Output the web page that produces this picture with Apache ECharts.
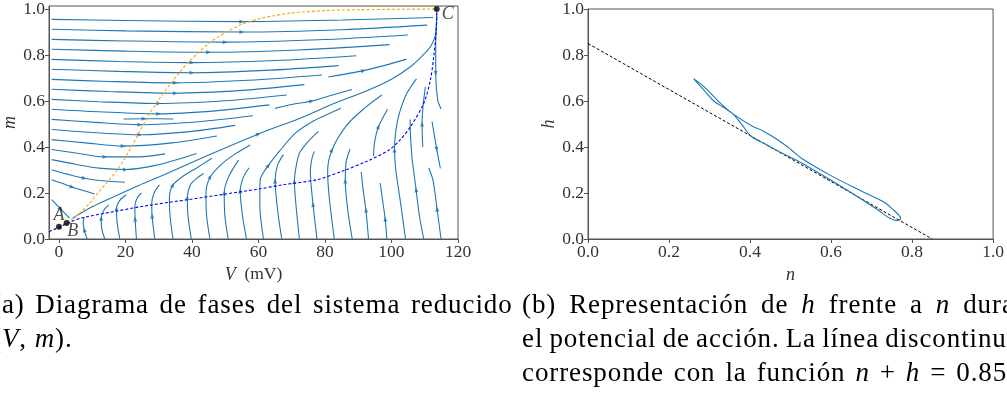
<!DOCTYPE html>
<html>
<head>
<meta charset="utf-8">
<script src="https://cdn.jsdelivr.net/npm/echarts@6/dist/echarts.min.js"></script>
<style>
html, body { margin: 0; padding: 0; width: 1007px; height: 403px; overflow: hidden; background: #fff; }
#main { position: absolute; left: 0; top: 0; width: 1007px; height: 403px; }
.cap {
  position: absolute;
  white-space: nowrap;
  font-family: 'Liberation Serif', serif;
  font-size: 27px;
  line-height: 34px;
  letter-spacing: 0.9px;
  color: #000;
}
.cap div { height: 34px; }
.cap i { font-style: italic; }
</style>
</head>
<body>
<div id="main"></div>
<div class="cap" style="left:-8px; top:287px;">
  <div style="word-spacing:3px;">(a) Diagrama de fases del sistema reducido</div>
  <div>(<i>V</i>, <i>m</i>).</div>
</div>
<div class="cap" style="left:522px; top:287px;">
  <div style="word-spacing:5.3px;">(b) Representación de <i>h</i> frente a <i>n</i> durante</div>
  <div style="word-spacing:-1.5px;">el potencial de acción. La línea discontinua</div>
  <div style="word-spacing:2.3px;">corresponde con la función <i>n</i> + <i>h</i> = 0.85.</div>
</div>

<script>
// ---- panel (a): streamlines [V (mV), m] ----
const upperLines = [
  [[-2.2, 0.955], [20, 0.95], [55, 0.945], [85, 0.952], [112.5, 0.963]],
  [[-2.2, 0.912], [20, 0.905], [55, 0.9], [85, 0.91], [110.7, 0.93]],
  [[-2.2, 0.868], [20, 0.861], [50, 0.856], [78, 0.866], [104.9, 0.887]],
  [[-2.2, 0.825], [20, 0.817], [45, 0.812], [72, 0.822], [99.4, 0.845]],
  [[-2.2, 0.781], [18, 0.772], [40, 0.767], [65, 0.776], [89.4, 0.797]],
  [[-2.2, 0.738], [18, 0.729], [40, 0.723], [62, 0.733], [84.1, 0.754]],
  [[-2.2, 0.694], [15, 0.685], [35, 0.679], [57, 0.69], [79.1, 0.713]],
  [[-2.2, 0.651], [15, 0.641], [35, 0.634], [55, 0.646], [73.8, 0.671]],
  [[-2.2, 0.607], [12, 0.597], [30, 0.589], [50, 0.601], [68.5, 0.626]],
  [[-2.2, 0.564], [12, 0.553], [30, 0.544], [47, 0.557], [63.3, 0.583]],
  [[-2.2, 0.52], [10, 0.508], [24.3, 0.497], [42, 0.51], [58.3, 0.536]],
  [[-2.2, 0.476], [10, 0.463], [24.3, 0.453], [40, 0.468], [53, 0.494]],
  [[-2.2, 0.432], [8, 0.418], [19.3, 0.404], [34, 0.418], [47.5, 0.448]],
  [[-2.2, 0.389], [6, 0.372], [13.8, 0.357], [24, 0.357], [31.9, 0.37]],
  [[-2.2, 0.345], [5, 0.325], [12, 0.308], [20, 0.302], [29, 0.32], [41.4, 0.372]],
  [[-2.2, 0.301], [2.5, 0.282], [7.6, 0.264], [13, 0.253], [19.8, 0.247]],
  [[-2.2, 0.258], [1, 0.242], [4, 0.225], [7.5, 0.21], [10.7, 0.196]],
  [[-2.2, 0.171], [0.5, 0.13], [3.2, 0.091]]
];

const midLines = [
  [[19.4, 0.522], [25.6, 0.523], [34.4, 0.522]],
  [[65, 0.568], [70, 0.585], [76, 0.6], [82, 0.625], [88.1, 0.65]],
  [[81, 0.704], [86, 0.717], [91.6, 0.732], [98, 0.755], [104.5, 0.782]],
  // separatriz hacia C
  [[4.2, 0.091], [10, 0.14], [16.8, 0.186], [24, 0.233], [31.8, 0.28], [45, 0.365], [60, 0.457],
   [72.5, 0.525], [82, 0.585], [92.6, 0.645], [100, 0.695], [105.7, 0.749], [109.5, 0.8],
   [111.7, 0.836], [113.1, 0.88], [113.5, 0.923], [113.6, 0.985]],
  [[94.6, 0.36], [94.9, 0.42], [96.1, 0.488], [98.8, 0.564]],
  [[109.4, 0.4], [109.2, 0.5], [109.5, 0.58], [110.2, 0.662]],
  [[112.2, 0.51], [112.9, 0.45], [113.6, 0.39], [114.7, 0.307]],
  [[113.6, 0.97], [113.3, 0.85], [113.3, 0.72], [113.9, 0.604], [114.9, 0.565]]
];

const lowerLines = [
  [[8.5, 0], [7.6, 0.04], [7.3, 0.07], [7.6, 0.095]],
  [[13.8, 0], [12.9, 0.042], [12.7, 0.09], [13.5, 0.125], [15, 0.148]],
  [[18.3, 0], [17.5, 0.07], [17.3, 0.133], [18.3, 0.168], [20.2, 0.191]],
  [[23.3, 0], [22.9, 0.087], [22.8, 0.14], [23.5, 0.178], [24.8, 0.2]],
  [[28.8, 0], [28, 0.1], [27.9, 0.152], [28.6, 0.2], [30.2, 0.235]],
  [[34.3, 0], [33.4, 0.1], [33.2, 0.18], [34.3, 0.235], [37.4, 0.274], [41.5, 0.31], [46, 0.351]],
  [[39.8, 0], [38.8, 0.1], [38.6, 0.18], [39.5, 0.235], [41.5, 0.265], [43.5, 0.285]],
  [[45.4, 0], [44.4, 0.1], [44.2, 0.2], [45.5, 0.27], [49.2, 0.329], [53, 0.37], [57.5, 0.409]],
  [[50.9, 0], [49.9, 0.1], [49.7, 0.2], [51, 0.27], [54, 0.343]],
  [[56.4, 0], [55.2, 0.1], [54.5, 0.209], [55.5, 0.27], [57.2, 0.31]],
  [[61.5, 0], [60.4, 0.15], [60.5, 0.257], [63, 0.32], [66.5, 0.385], [71, 0.459], [75.6, 0.505], [79, 0.53], [84.8, 0.568]],
  [[67, 0], [65.8, 0.12], [65, 0.252], [65.7, 0.32], [67.5, 0.367]],
  [[72.3, 0], [71.2, 0.16], [70.8, 0.25], [71.5, 0.33], [72.5, 0.378], [75, 0.425], [78, 0.468]],
  [[77.6, 0], [76.4, 0.15], [75.6, 0.293], [76, 0.345], [76.8, 0.381]],
  [[82.8, 0], [81.3, 0.178], [80.8, 0.294], [82.1, 0.387], [86.6, 0.496], [92, 0.57], [97.1, 0.626]],
  [[88.2, 0], [86.9, 0.12], [86.1, 0.252], [86.3, 0.33], [87.5, 0.39]],
  [[93.1, 0], [92.3, 0.126], [91.5, 0.21], [90.9, 0.291]],
  [[98.6, 0], [98.1, 0.087], [97.3, 0.17], [96.6, 0.243]],
  [[104.2, 0], [102.8, 0.15], [101.3, 0.3], [100.9, 0.387], [101.3, 0.47], [102.3, 0.543], [104.5, 0.63], [107.5, 0.696]],
  [[109.7, 0], [108.4, 0.1], [107.4, 0.214], [106.2, 0.35], [105.7, 0.453], [105.6, 0.52]],
  [[114.9, 0], [113.7, 0.13], [112.5, 0.254], [111.2, 0.31]]
];

// nulclinas
const mNullcline = [[-3, 0.035], [0, 0.052], [3, 0.078], [6, 0.11], [9, 0.152], [12, 0.205], [15, 0.255],
  [18, 0.31], [21, 0.38], [24, 0.46], [27, 0.54], [30, 0.605], [33, 0.665], [36, 0.72], [39, 0.77],
  [42, 0.81], [45, 0.85], [48, 0.88], [51, 0.905], [55, 0.933], [60, 0.957], [65, 0.972], [70, 0.983],
  [80, 0.993], [90, 0.997], [113.6, 1.0]];
const vNullcline = [[-3, 0.032], [0, 0.05], [2.7, 0.07], [6.7, 0.091], [16.8, 0.12], [26.8, 0.146],
  [38.8, 0.171], [48.9, 0.193], [59.9, 0.217], [67.5, 0.236], [77.6, 0.258], [85.6, 0.297],
  [92.6, 0.338], [99.3, 0.387], [102.5, 0.43], [105.7, 0.488], [109.7, 0.59], [111.7, 0.691],
  [112.7, 0.793], [113.4, 0.894], [113.6, 0.96], [113.6, 1.0]];

const fixedPts = [[0, 0.053], [2.3, 0.07], [113.6, 1.0]];
const fixedNames = ['A', 'B', 'C'];

const vTicks = [0, 20, 40, 60, 80, 100, 120];
const unitTicks = [0, 0.2, 0.4, 0.6, 0.8, 1.0];

// ---- panel (b): h frente a n ----
const loopN = [0.261, 0.29, 0.312, 0.335, 0.357, 0.38, 0.402, 0.435, 0.471, 0.524, 0.594, 0.651, 0.716,
  0.745, 0.762, 0.772, 0.768, 0.752, 0.733, 0.667, 0.594, 0.528, 0.5, 0.471, 0.43, 0.406, 0.357, 0.33,
  0.292, 0.272, 0.261];
const loopH = [0.696, 0.64, 0.598, 0.572, 0.545, 0.497, 0.448, 0.415, 0.381, 0.334, 0.262, 0.2, 0.126,
  0.09, 0.081, 0.088, 0.103, 0.13, 0.158, 0.215, 0.281, 0.35, 0.39, 0.428, 0.472, 0.49, 0.545, 0.585,
  0.653, 0.683, 0.696];
const sumLine = [[0, 0.85], [0.85, 0]]; // n + h = 0.85

// ---- estilos ----
const font = 'Liberation Serif';
const spine = '#555';
const streamColor = '#1f77b4';
const tickSize = 17.5;

function axisBase(ticks, fmt) {
  return {
    type: 'value',
    splitLine: { show: false },
    axisLine: { show: true, onZero: false, lineStyle: { color: spine, width: 1 } },
    axisTick: { show: true, inside: false, length: 4, customValues: ticks, lineStyle: { color: spine } },
    axisLabel: { customValues: ticks, formatter: fmt, fontFamily: font, fontSize: tickSize, color: '#333', margin: 4 },
    nameLocation: 'middle'
  };
}
const f1 = v => Number(v).toFixed(1);
const italicName = { fontFamily: font, fontSize: 18, fontStyle: 'italic', color: '#333' };

const allLines = [].concat(upperLines, midLines, lowerLines);
const series = allLines.map(pts => ({
  type: 'line', xAxisIndex: 0, yAxisIndex: 0, data: pts,
  showSymbol: false, smooth: 0.3, silent: true,
  lineStyle: { color: streamColor, width: 1.1 }
}));

series.push({
  type: 'line', xAxisIndex: 0, yAxisIndex: 0, data: mNullcline, showSymbol: false, smooth: 0.3,
  lineStyle: { color: '#ffa500', width: 1.1, type: [3, 2] }, z: 4
});
series.push({
  type: 'line', xAxisIndex: 0, yAxisIndex: 0, data: vNullcline, showSymbol: false, smooth: 0.3,
  lineStyle: { color: '#0000ff', width: 1.1, type: [3, 2] }, z: 4
});

const labelOffsets = [[0, -12], [6, 8], [11, 5]];
series.push({
  type: 'scatter', xAxisIndex: 0, yAxisIndex: 0, z: 6,
  symbolSize: 6, itemStyle: { color: '#000' },
  data: fixedPts.map((p, i) => ({
    value: p,
    label: {
      show: true, formatter: fixedNames[i], position: 'inside', offset: labelOffsets[i],
      fontFamily: font, fontStyle: 'italic', fontSize: 18, color: '#222'
    }
  }))
});

series.push({
  type: 'line', xAxisIndex: 1, yAxisIndex: 1, data: sumLine, showSymbol: false,
  lineStyle: { color: '#000', width: 1, type: [3, 2] }
});
series.push({
  type: 'line', xAxisIndex: 1, yAxisIndex: 1, data: loopN.map((n, i) => [n, loopH[i]]),
  showSymbol: false, smooth: 0.3, lineStyle: { color: streamColor, width: 1.1 }
});

const option = {
  animation: false,
  grid: [
    { left: 49, right: 549, top: 6, bottom: 164, show: true, borderColor: spine, borderWidth: 1 },
    { left: 588, right: 11, top: 7, bottom: 164, show: true, borderColor: spine, borderWidth: 1 }
  ],
  xAxis: [
    Object.assign(axisBase(vTicks, v => String(v)), {
      gridIndex: 0, min: -3, max: 120, name: '{i|V}  (mV)', nameGap: 18,
      nameTextStyle: { fontFamily: font, fontSize: 17.5, color: '#333', rich: { i: italicName } }
    }),
    Object.assign(axisBase(unitTicks, f1), {
      gridIndex: 1, min: 0, max: 1, name: 'n', nameGap: 14, nameTextStyle: italicName
    })
  ],
  yAxis: [
    Object.assign(axisBase(unitTicks, f1), {
      gridIndex: 0, min: 0, max: 1.013, name: 'm', nameGap: 25, nameTextStyle: italicName
    }),
    Object.assign(axisBase(unitTicks, f1), {
      gridIndex: 1, min: 0, max: 1, name: 'h', nameGap: 25, nameTextStyle: italicName
    })
  ],
  series
};

const chart = echarts.init(document.getElementById('main'));
chart.setOption(option);

// flechas de las líneas de corriente: en el vértice más cercano a la mitad del recorrido
const arrowData = [];
allLines.forEach(pts => {
  if (pts.length < 3) return;
  const px = pts.map(p => chart.convertToPixel({ gridIndex: 0 }, p));
  let total = 0;
  const acc = [0];
  for (let i = 1; i < px.length; i++) {
    total += Math.hypot(px[i][0] - px[i - 1][0], px[i][1] - px[i - 1][1]);
    acc.push(total);
  }
  let k = 1, best = Infinity;
  for (let i = 1; i < px.length - 1; i++) {
    const d = Math.abs(acc[i] - total / 2);
    if (d < best) { best = d; k = i; }
  }
  const dx = px[k + 1][0] - px[k - 1][0];
  const dy = px[k + 1][1] - px[k - 1][1];
  const ang = Math.atan2(-dy, dx) * 180 / Math.PI;
  arrowData.push({ value: pts[k], symbolRotate: ang - 90 });
});
chart.setOption({
  series: series.concat([{
    type: 'scatter', xAxisIndex: 0, yAxisIndex: 0, symbol: 'triangle', symbolSize: [4, 5],
    itemStyle: { color: streamColor }, z: 3, silent: true, data: arrowData
  }])
});
</script>
</body>
</html>
